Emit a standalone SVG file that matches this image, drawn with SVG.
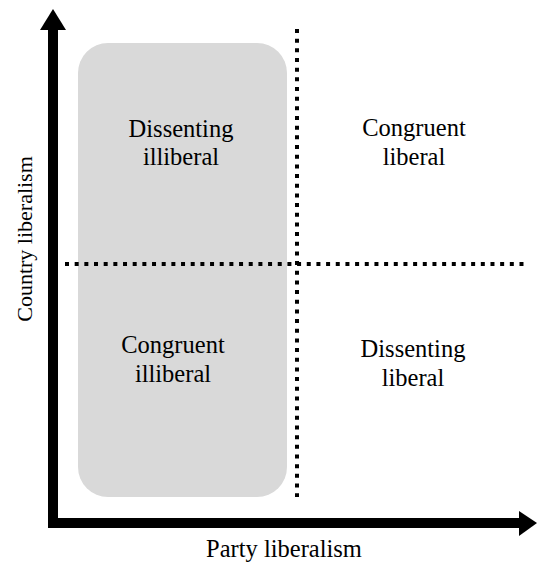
<svg xmlns="http://www.w3.org/2000/svg" width="537" height="564" viewBox="0 0 537 564">
<style>
.t{font-family:"Liberation Serif","Times New Roman",serif;font-size:24.5px;fill:#000;text-anchor:middle}
.dot{stroke:#000;stroke-width:4;stroke-dasharray:4 5.67;fill:none}
</style>
<rect width="537" height="564" fill="#fff"/>
<g id="region-illiberal">
<rect x="78" y="43" width="209" height="454" rx="30" ry="30" fill="#d9d9d9"/>
</g>
<g id="connectors">
<line class="dot" x1="297" y1="29" x2="297" y2="497"/>
<line class="dot" x1="65" y1="264" x2="526" y2="264"/>
<line x1="53" y1="28" x2="53" y2="528" stroke="#000" stroke-width="10"/>
<polygon points="53,9 40,30 66,30" fill="#000"/>
<line x1="48" y1="523" x2="520" y2="523" stroke="#000" stroke-width="10"/>
<polygon points="537,523 519,511 519,536" fill="#000"/>
</g>
<g id="q-dissenting-illiberal">
<text class="t" x="181" y="137">Dissenting</text>
<text class="t" x="181" y="165">illiberal</text>
</g>
<g id="q-congruent-liberal">
<text class="t" x="414" y="136">Congruent</text>
<text class="t" x="414" y="165">liberal</text>
</g>
<g id="q-congruent-illiberal">
<text class="t" x="173" y="353">Congruent</text>
<text class="t" x="173" y="382">illiberal</text>
</g>
<g id="q-dissenting-liberal">
<text class="t" x="413" y="357">Dissenting</text>
<text class="t" x="413" y="386">liberal</text>
</g>
<g id="axis-x-label">
<text class="t" x="284" y="557">Party liberalism</text>
</g>
<g id="axis-y-label">
<text class="t" style="font-size:22px" transform="translate(32,239) rotate(-90)" x="0" y="0">Country liberalism</text>
</g>
</svg>
